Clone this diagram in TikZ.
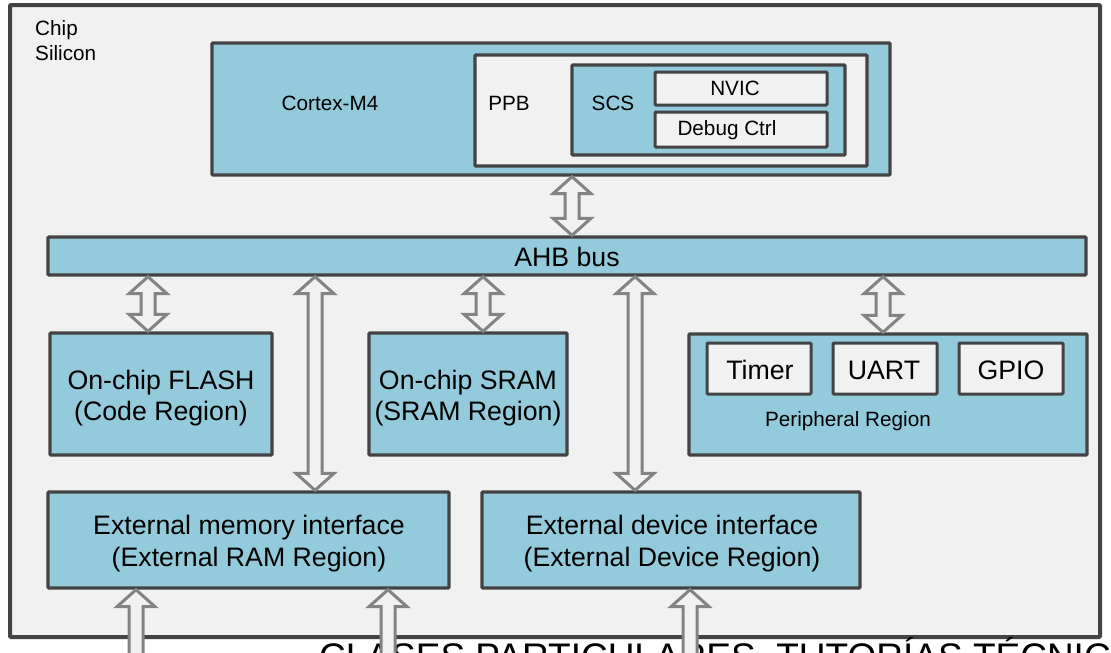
\documentclass[tikz,border=0pt]{standalone}
\usepackage{fontspec}
\setmainfont{Liberation Sans}
\usetikzlibrary{calc}
\definecolor{chipbg}{HTML}{F1F1F1}
\definecolor{blk}{HTML}{93CBDC}
\definecolor{edge}{HTML}{434343}
\definecolor{arr}{HTML}{838383}
\tikzset{
  box/.style={draw=edge, line width=3.4pt, rectangle, rounded corners=1pt, inner sep=0pt},
  bluebox/.style={box, fill=blk},
  lightbox/.style={box, fill=chipbg},
  small/.style={font=\fontsize{20.7}{24.8}\selectfont, inner sep=0pt, anchor=base},
  big/.style={font=\fontsize{26.7}{32}\selectfont, inner sep=0pt, anchor=base},
  barrow/.style={draw=arr, fill=chipbg, line width=3pt, line join=miter},
}
\newcommand\blkdbl[2]{%
  \draw[barrow] let \p1=#1, \p2=#2 in
    (\x1,\y1) -- (\x1+19pt,\y1-17pt) -- (\x1+7pt,\y1-17pt) -- (\x1+7pt,\y2+17pt)
    -- (\x1+19pt,\y2+17pt) -- (\x1,\y2) -- (\x1-19pt,\y2+17pt) -- (\x1-7pt,\y2+17pt)
    -- (\x1-7pt,\y1-17pt) -- (\x1-19pt,\y1-17pt) -- cycle;}
\newcommand\blkup[2]{%
  \draw[barrow] let \p1=#1, \p2=#2 in
    (\x1,\y1) -- (\x1+19pt,\y1-17pt) -- (\x1+7pt,\y1-17pt) -- (\x1+7pt,\y2)
    -- (\x1-7pt,\y2) -- (\x1-7pt,\y1-17pt) -- (\x1-19pt,\y1-17pt) -- cycle;}
\begin{document}
\begin{tikzpicture}[x=1pt,y=-1pt]
\useasboundingbox (0,0) rectangle (1111,653);
\clip (0,0) rectangle (1111,653);
\fill[white] (0,0) rectangle (1111,653);

% chip
\node[lightbox, line width=4pt, minimum width=1090pt, minimum height=632pt] (chip) at (555,321) {};
\node[small, anchor=base west] (chipt1) at (35,35) {Chip};
\node[small, anchor=base west] (chipt2) at (35,60) {Silicon};

% Cortex-M4 block
\node[bluebox, minimum width=678pt, minimum height=132pt] (cortex) at (551,109) {};
\node[small] (cortext) at (330,110) {Cortex-M4};
\node[lightbox, minimum width=392pt, minimum height=111pt] (ppb) at (671,110.5) {};
\node[small] (ppbt) at (509,110) {PPB};
\node[bluebox, minimum width=273pt, minimum height=90pt] (scs) at (708.5,110) {};
\node[small] (scst) at (613,110) {SCS};
\node[lightbox, line width=3pt, minimum width=172pt, minimum height=33pt] (nvic) at (741,88.5) {};
\node[small] (nvict) at (735,95) {NVIC};
\node[lightbox, line width=3pt, minimum width=172pt, minimum height=35pt] (dbg) at (741,129.5) {};
\node[small] (dbgt) at (727,135) {Debug Ctrl};

% AHB bus
\node[bluebox, minimum width=1038pt, minimum height=38pt] (ahb) at (567,256) {};
\node[big] (ahbt) at (567,266) {AHB bus};

% memories
\node[bluebox, minimum width=222pt, minimum height=122pt] (flash) at (161,394) {};
\node[big] (flasht1) at (161,389) {On-chip FLASH};
\node[big] (flasht2) at (161,420) {(Code Region)};
\node[bluebox, minimum width=198pt, minimum height=122pt] (sram) at (468,394) {};
\node[big] (sramt1) at (468,389) {On-chip SRAM};
\node[big] (sramt2) at (468,420) {(SRAM Region)};

% peripherals
\node[bluebox, minimum width=398pt, minimum height=121pt] (periph) at (888,394.5) {};
\node[lightbox, line width=3pt, minimum width=104pt, minimum height=51pt] (timer) at (759,368.5) {};
\node[big] (timert) at (760,379) {Timer};
\node[lightbox, line width=3pt, minimum width=104pt, minimum height=51pt] (uart) at (885,368.5) {};
\node[big] (uartt) at (884,379) {UART};
\node[lightbox, line width=3pt, minimum width=104pt, minimum height=51pt] (gpio) at (1011,368.5) {};
\node[big] (gpiot) at (1011,379) {GPIO};
\node[small] (periphl) at (848,426) {Peripheral Region};

% external interfaces
\node[bluebox, minimum width=401pt, minimum height=96pt] (extmem) at (248.5,540) {};
\node[big] (extmemt1) at (249,534) {External memory interface};
\node[big] (extmemt2) at (249,566) {(External RAM Region)};
\node[bluebox, minimum width=378pt, minimum height=96pt] (extdev) at (671,540) {};
\node[big] (extdevt1) at (672,534) {External device interface};
\node[big] (extdevt2) at (672,566) {(External Device Region)};

% watermark text (cut off by the lower and right edges, as in the reference)
\node[font=\fontsize{37}{44}\selectfont, inner sep=0pt, anchor=base west] (wm) at (319,669) {CLASES PARTICULARES, TUTORÍAS TÉCNIC};

% connector x positions
\coordinate (xc) at (572,0);
\coordinate (xf) at (148,0);
\coordinate (xm) at (315,0);
\coordinate (xs) at (483,0);
\coordinate (xd) at (635,0);
\coordinate (xp) at (883,0);
\coordinate (xb1) at (136,0);
\coordinate (xb2) at (388,0);
\coordinate (xb3) at (690,0);
\coordinate (bot) at (0,670);

% block arrows
\blkdbl{(xc |- cortex.south)}{(xc |- ahb.north)}
\blkdbl{(xf |- ahb.south)}{(xf |- flash.north)}
\blkdbl{(xm |- ahb.south)}{(xm |- extmem.north)}
\blkdbl{(xs |- ahb.south)}{(xs |- sram.north)}
\blkdbl{(xd |- ahb.south)}{(xd |- extdev.north)}
\blkdbl{(xp |- ahb.south)}{(xp |- periph.north)}
\blkup{(xb1 |- extmem.south)}{(xb1 |- bot)}
\blkup{(xb2 |- extmem.south)}{(xb2 |- bot)}
\blkup{(xb3 |- extdev.south)}{(xb3 |- bot)}
\end{tikzpicture}
\end{document}
